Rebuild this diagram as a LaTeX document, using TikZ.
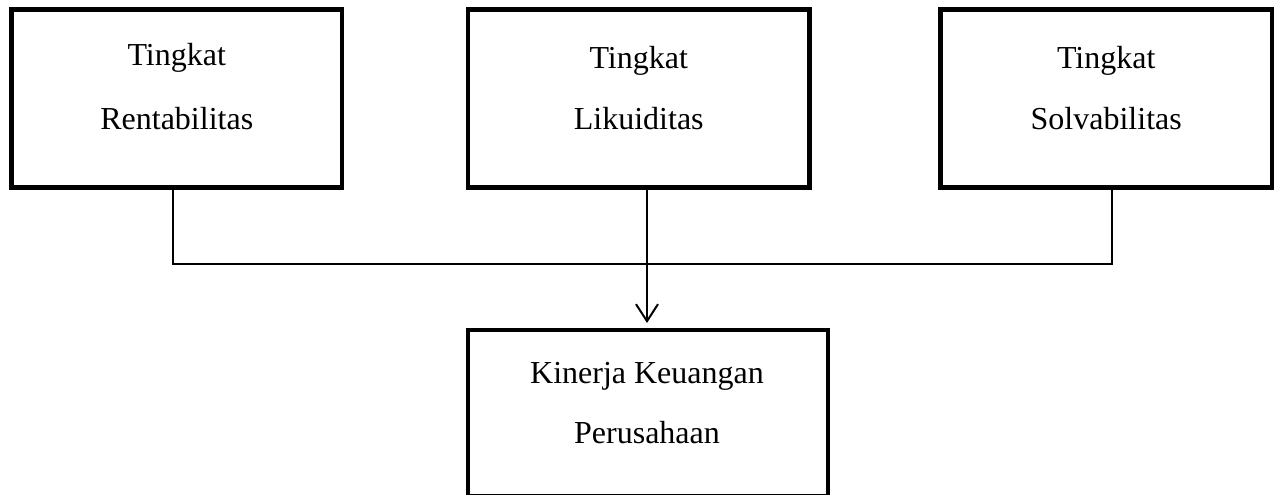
\documentclass[tikz,border=0pt]{standalone}
\usepackage{fontspec}
\setmainfont{Liberation Serif}
\usetikzlibrary{arrows.meta}
\begin{document}
\begin{tikzpicture}[x=1pt,y=-1pt,
  boxnode/.style={draw=black,line width=4.5pt,rectangle,inner sep=0pt,outer sep=0pt,fill=white},
  lbl/.style={anchor=base,inner sep=0pt,font=\fontsize{32}{38}\selectfont},
  conn/.style={draw=black,line width=2pt}]
\useasboundingbox (0,0) rectangle (1275,495);
\fill[white] (0,0) rectangle (1275,495);
% boxes
\node[boxnode,minimum width=330.5pt,minimum height=178pt] (b1) at (176.75,98.5) {};
\node[boxnode,minimum width=341.5pt,minimum height=178pt] (b2) at (638.75,98.5) {};
\node[boxnode,minimum width=331.5pt,minimum height=178pt] (b3) at (1106.25,98.5) {};
\node[boxnode,minimum width=360pt,minimum height=166pt] (b4) at (648,413) {};
% labels
\node[lbl] (t1a) at (176.75,66) {Tingkat};
\node[lbl] (t1b) at (176.75,129) {Rentabilitas};
\node[lbl] (t2a) at (638.75,69) {Tingkat};
\node[lbl] (t2b) at (638.75,129) {Likuiditas};
\node[lbl] (t3a) at (1106.25,69) {Tingkat};
\node[lbl] (t3b) at (1106.25,129) {Solvabilitas};
\node[lbl] (t4a) at (647,383) {Kinerja Keuangan};
\node[lbl] (t4b) at (647,443) {Perusahaan};
% connectors
\coordinate (jL) at (173,264);
\coordinate (jM) at (647,264);
\coordinate (jR) at (1112,264);
\draw[conn] (b1.south -| jL) -- (jL) -- (jR) -- (b3.south -| jR);
\draw[conn] (b2.south -| jM) -- (jM);
\draw[conn,-{Straight Barb[length=17pt,width=22pt,line width=2pt]},shorten >=7pt] (jM) -- (b4.north -| jM);
\end{tikzpicture}
\end{document}
